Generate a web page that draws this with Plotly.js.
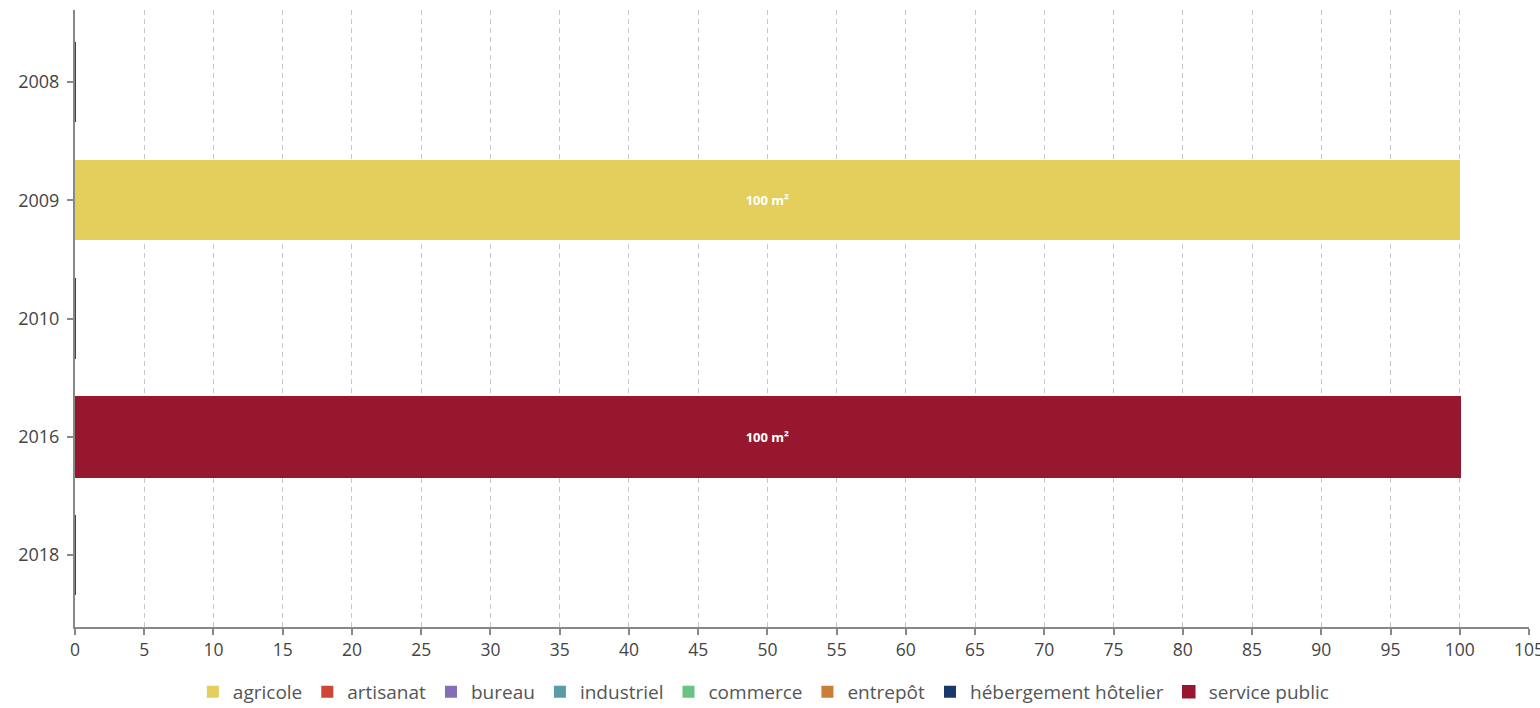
<!DOCTYPE html>
<html>
<head>
<meta charset="utf-8">
<script src="https://cdn.plot.ly/plotly-3.0.1.min.js"></script>
<style>html,body{margin:0;padding:0;background:#fff;}#chart{width:1540px;height:708px;}</style>
</head>
<body>
<div id="chart"></div>
<script>
const years = ['2008', '2009', '2010', '2016', '2018'];
const agricole = [0, 100, 0, 0, 0];
const artisanat = [0, 0, 0, 0, 0];
const bureau = [0, 0, 0, 0, 0];
const industriel = [0, 0, 0, 0, 0];
const commerce = [0, 0, 0, 0, 0];
const entrepot = [0, 0, 0, 0, 0];
const hebergement = [0, 0, 0, 0, 0];
const servicePublic = [0, 0, 0, 100, 0];
const xTicks = [0,5,10,15,20,25,30,35,40,45,50,55,60,65,70,75,80,85,90,95,100,105];

const series = [
  {name: 'agricole', values: agricole, color: '#E4CF5C'},
  {name: 'artisanat', values: artisanat, color: '#CF4536'},
  {name: 'bureau', values: bureau, color: '#866DB5'},
  {name: 'industriel', values: industriel, color: '#589DA6'},
  {name: 'commerce', values: commerce, color: '#68C385'},
  {name: 'entrepôt', values: entrepot, color: '#C97D35'},
  {name: 'hébergement hôtelier', values: hebergement, color: '#1A386A'},
  {name: 'service public', values: servicePublic, color: '#97172F'}
];

// running total per year, to know which zero-length bars sit at the axis
const totals = years.map(() => 0);
const traces = series.map(s => {
  const lineW = s.values.map((v, i) => (s.name === 'service public' && totals[i] === 0) ? 1.5 : 0);
  s.values.forEach((v, i) => { totals[i] += v; });
  return {
    type: 'bar',
    orientation: 'h',
    name: s.name,
    y: years,
    x: s.values,
    width: 0.68,
    marker: {color: s.color, line: {color: s.color, width: lineW}},
    text: s.values.map(v => v ? v + ' m²' : ''),
    textposition: 'inside',
    insidetextanchor: 'middle',
    textangle: 0,
    textfont: {color: '#ffffff', size: 13, family: 'Open Sans', weight: 'bold'},
    hoverinfo: 'name+x'
  };
});

const layout = {
  width: 1540, height: 708,
  margin: {l: 75, r: 11, t: 10, b: 81, autoexpand: false},
  barmode: 'stack',
  paper_bgcolor: '#fff', plot_bgcolor: '#fff',
  font: {family: 'Open Sans', size: 17, color: '#444'},
  showlegend: true,
  legend: {orientation: 'h', xref: 'container', x: 0.496, xanchor: 'center', y: -0.105, yanchor: 'middle',
           font: {size: 19, color: '#555', family: 'Open Sans'}, traceorder: 'normal', itemwidth: 30},
  xaxis: {
    range: [0, 105], tickvals: xTicks, ticktext: xTicks.map(String),
    showgrid: true, gridcolor: '#c8c8c8', griddash: '5px,4px', gridwidth: 1,
    showline: true, linecolor: '#888', linewidth: 2,
    ticks: 'outside', ticklen: 6, tickcolor: '#888', tickwidth: 2,
    zeroline: false, fixedrange: true, ticklabeloverflow: 'allow',
    tickfont: {size: 17.5, color: '#444'}
  },
  yaxis: {
    type: 'category', autorange: false, range: [4.61, -0.61],
    showgrid: false, showline: true, linecolor: '#888', linewidth: 2,
    ticks: 'outside', ticklen: 6, tickcolor: '#888', tickwidth: 2,
    zeroline: false, fixedrange: true, ticklabelstandoff: 4,
    tickfont: {size: 18, color: '#444'}
  },
  bargap: 0.32
};

Plotly.newPlot('chart', traces, layout, {displayModeBar: false, staticPlot: true});
</script>
</body>
</html>
